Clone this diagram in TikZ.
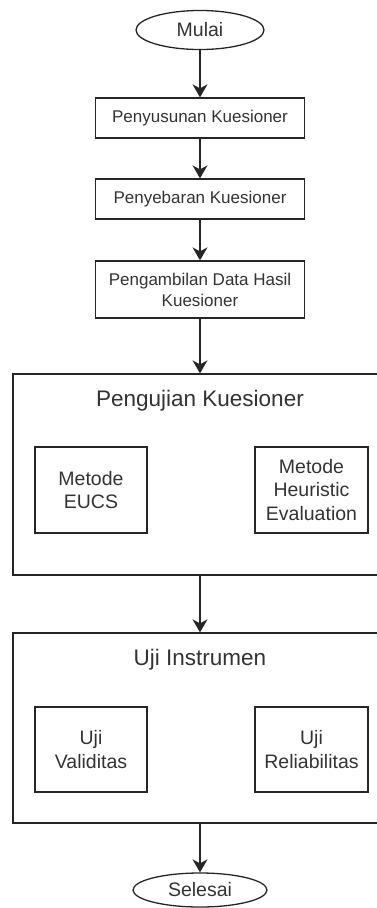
\documentclass[tikz,border=0pt]{standalone}
\usepackage{fontspec}
\setmainfont{Liberation Sans}
\usetikzlibrary{shapes.geometric,arrows.meta}
\definecolor{linec}{HTML}{262626}
\definecolor{textc}{HTML}{333333}
\begin{document}
\begin{tikzpicture}[x=1pt,y=-1pt,
  base/.style={draw=linec, line width=1.3pt, text=textc, inner sep=0pt, align=center},
  term/.style={base, ellipse, font=\fontsize{19.5}{23}\selectfont},
  proc/.style={base, rectangle, minimum width=209pt, font=\fontsize{17}{21}\selectfont},
  group/.style={base, rectangle, minimum width=374pt},
  grouptitle/.style={text=textc, inner sep=0pt, font=\fontsize{22.5}{27}\selectfont},
  inbox/.style={base, rectangle, minimum height=86pt, font=\fontsize{19.5}{23.5}\selectfont},
  arr/.style={draw=linec, line width=1.3pt, -{Stealth[length=13pt, width=15pt, inset=4pt]}}
]
\useasboundingbox (0,0) rectangle (377,908);
\clip (0,0) rectangle (377,908);

\node[term, minimum width=128pt, minimum height=39pt] (start) at (200,30) {Mulai};
\node[proc, minimum height=40pt] (p1) at (200,118) {Penyusunan Kuesioner};
\node[proc, minimum height=40pt] (p2) at (200,199) {Penyebaran Kuesioner};
\node[proc, minimum height=57pt] (p3) at (200,289.5) {Pengambilan Data Hasil\\Kuesioner};

\node[group, minimum height=201pt] (g1) at (200,474.5) {};
\node[grouptitle] (t1) at (200,401) {Pengujian Kuesioner};
\node[inbox, minimum width=112pt] (m1) at (91,490) {Metode\\EUCS};
\node[inbox, minimum width=113pt] (m2) at (311.5,490) {Metode\\Heuristic\\Evaluation};

\node[group, minimum height=190pt] (g2) at (200,728) {};
\node[grouptitle] (t2) at (200,660) {Uji Instrumen};
\node[inbox, minimum width=112pt, minimum height=85pt] (u1) at (91,749.5) {Uji\\Validitas};
\node[inbox, minimum width=113pt, minimum height=85pt] (u2) at (311.5,749.5) {Uji\\Reliabilitas};

\node[term, minimum width=134pt, minimum height=34pt] (end) at (200,890) {Selesai};

\draw[arr] (start) -- (p1);
\draw[arr] (p1) -- (p2);
\draw[arr] (p2) -- (p3);
\draw[arr] (p3) -- (g1);
\draw[arr] (g1) -- (g2);
\draw[arr] (g2) -- (end);
\end{tikzpicture}
\end{document}
